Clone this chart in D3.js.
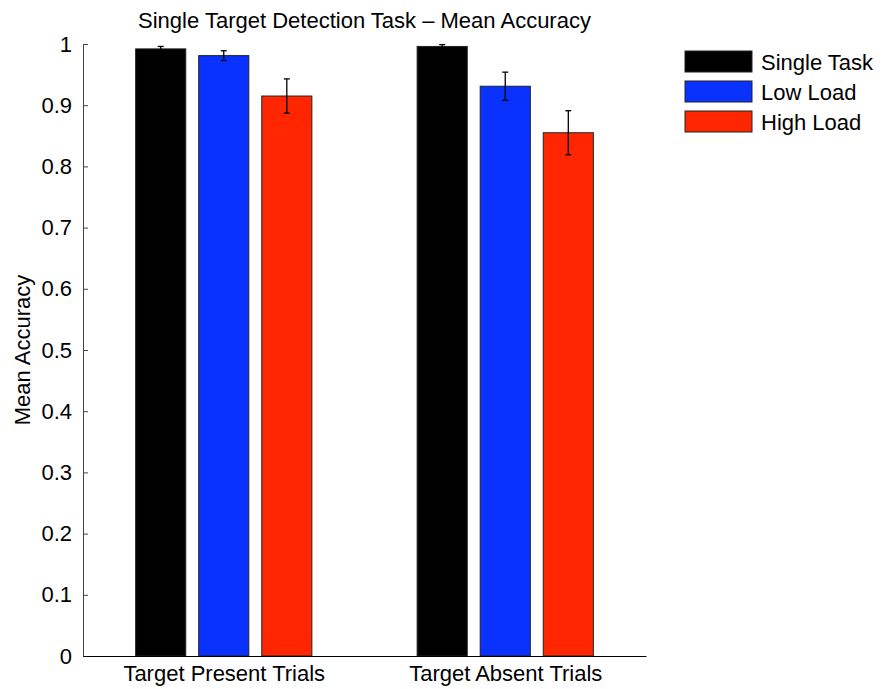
<!DOCTYPE html>
<html>
<head>
<meta charset="utf-8">
<script src="https://cdn.jsdelivr.net/npm/d3@7"></script>
<style>
  body { margin: 0; background: #fff; }
  text { font-family: "Liberation Sans", Arial, sans-serif; fill: #000; }
</style>
</head>
<body>
<svg id="SVG_CONTAINER" width="882" height="689"></svg>
<script>
// data
const categories = ["Target Present Trials", "Target Absent Trials"];
const seriesNames = ["Single Task", "Low Load", "High Load"];
const seriesColours = ["#000000", "#0a32ff", "#ff2600"];
const singleTask = [0.992, 0.996];
const lowLoad = [0.981, 0.931];
const highLoad = [0.915, 0.855];
const singleTaskErr = [0.004, 0.003];
const lowLoadErr = [0.008, 0.023];
const highLoadErr = [0.028, 0.036];
const yTicks = [0, 0.1, 0.2, 0.3, 0.4, 0.5, 0.6, 0.7, 0.8, 0.9, 1];

const MARGIN = { LEFT: 83, RIGHT: 236, TOP: 44, BOTTOM: 33 };
const width = 882, height = 689;
const FONT = "22px";

let svg = d3.select("#SVG_CONTAINER");
let chart = svg.append("g").attr("class", "barChart");

let values = [singleTask, lowLoad, highLoad];
let errors = [singleTaskErr, lowLoadErr, highLoadErr];

//** SCALES *****************************************
// matlab style: groups at 1 and 2, limits 0.5 .. 2.5
let xScale = d3.scaleLinear()
    .domain([0.5, 2.5])
    .range([MARGIN.LEFT, width - MARGIN.RIGHT]);

let yScale = d3.scaleLinear()
    .domain([0, 1])
    .range([height - MARGIN.BOTTOM, MARGIN.TOP]);

let offset = 0.224, barW = 0.178;

//** BARS *****************************************
for (let s = 0; s < seriesNames.length; s++) {
    let bars = [];
    for (let c = 0; c < categories.length; c++) {
        bars.push({ x: c + 1 + (s - 1) * offset, v: values[s][c], e: errors[s][c] });
    }

    chart.append("g").selectAll("rect")
        .data(bars)
        .enter()
        .append("rect")
        .attr("x", d => xScale(d.x - barW / 2))
        .attr("y", d => yScale(d.v))
        .attr("width", xScale(barW) - xScale(0))
        .attr("height", d => yScale(0) - yScale(d.v))
        .attr("fill", seriesColours[s])
        .attr("stroke", "#222")
        .attr("stroke-width", 1);

    // error bars
    let eb = chart.append("g").selectAll("g")
        .data(bars)
        .enter()
        .append("g")
        .attr("stroke", "#000")
        .attr("stroke-width", 1.3);
    eb.append("line")
        .attr("x1", d => xScale(d.x)).attr("x2", d => xScale(d.x))
        .attr("y1", d => yScale(d.v - d.e)).attr("y2", d => yScale(d.v + d.e));
    eb.append("line")
        .attr("x1", d => xScale(d.x) - 3).attr("x2", d => xScale(d.x) + 3)
        .attr("y1", d => yScale(d.v - d.e)).attr("y2", d => yScale(d.v - d.e));
    eb.append("line")
        .attr("x1", d => xScale(d.x) - 3).attr("x2", d => xScale(d.x) + 3)
        .attr("y1", d => yScale(d.v + d.e)).attr("y2", d => yScale(d.v + d.e));
}

//** AXES *****************************************
let yAxis = d3.axisLeft(yScale)
    .tickValues(yTicks)
    .tickFormat(d => d3.format("~g")(d))
    .tickSizeInner(-5)
    .tickSizeOuter(0)
    .tickPadding(11);

let yG = chart.append("g")
    .attr("class", "y_axis")
    .attr("transform", "translate(" + MARGIN.LEFT + ",0)")
    .call(yAxis);
yG.selectAll("text").style("font-size", FONT);
yG.selectAll("line, path").attr("stroke", "#444");

let xAxis = d3.axisBottom(xScale)
    .tickValues([1, 2])
    .tickFormat((d, i) => categories[i])
    .tickSize(0)
    .tickPadding(9);

let xG = chart.append("g")
    .attr("class", "x_axis")
    .attr("transform", "translate(0," + (height - MARGIN.BOTTOM) + ")")
    .call(xAxis);
xG.selectAll("text").style("font-size", FONT);
xG.select("path").attr("stroke", "#000");

//** LABELS *****************************************
chart.append("text")
    .attr("x", (MARGIN.LEFT + width - MARGIN.RIGHT) / 2)
    .attr("y", 28)
    .attr("text-anchor", "middle")
    .style("font-size", FONT)
    .text("Single Target Detection Task \u2013 Mean Accuracy");

chart.append("text")
    .attr("transform", "translate(30," + (height - MARGIN.BOTTOM + MARGIN.TOP) / 2 + ") rotate(-90)")
    .attr("text-anchor", "middle")
    .style("font-size", FONT)
    .text("Mean Accuracy");

//** LEGEND *****************************************
let legend = svg.append("g").attr("class", "legend");
for (let i = 0; i < seriesNames.length; i++) {
    let yL = 51 + i * 30;
    legend.append("rect")
        .attr("x", 685)
        .attr("y", yL)
        .attr("width", 67)
        .attr("height", 21)
        .attr("fill", seriesColours[i])
        .attr("stroke", "#222");
    legend.append("text")
        .attr("x", 761)
        .attr("y", yL + 19)
        .style("font-size", FONT)
        .text(seriesNames[i]);
}
</script>
</body>
</html>
